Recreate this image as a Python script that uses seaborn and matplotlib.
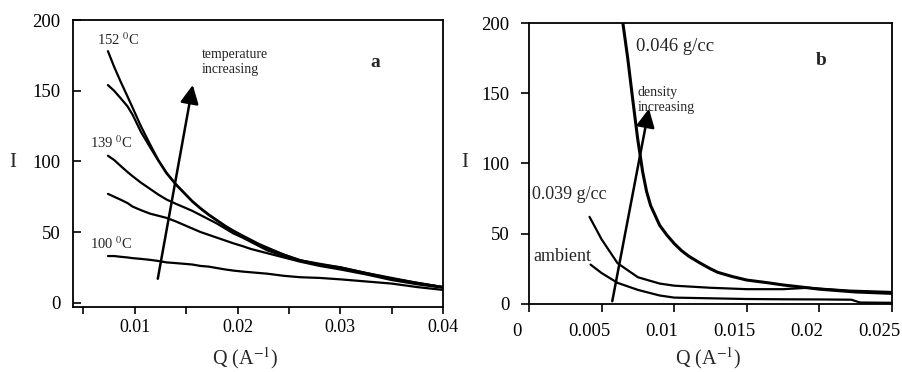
import matplotlib
matplotlib.use('Agg')
import matplotlib.pyplot as plt
from matplotlib.ticker import MultipleLocator
from matplotlib.transforms import ScaledTranslation
import pandas as pd
import seaborn as sns

# panel a: scattering intensity vs Q at several temperatures
q_a = [0.0074, 0.008, 0.0086, 0.0093, 0.0098, 0.0106, 0.0115, 0.0123, 0.0131, 0.014,
       0.0148, 0.0156, 0.0164, 0.0172, 0.018, 0.0188, 0.0196, 0.0205, 0.0213, 0.0221,
       0.0229, 0.0245, 0.0261, 0.028, 0.030, 0.0325, 0.035, 0.0375, 0.040]
I_152 = [178, 167, 157, 146, 138, 125, 112, 101, 92, 84, 78, 72, 67, 62.5, 58.5, 54.5,
         51, 47.5, 44.5, 41.5, 39, 34, 30, 27, 25, 21, 17, 14, 11]
I_2nd = [154, 150, 145, 139, 133, 121, 110, 100.5, 91.5, 83.5, 77.5, 71.5, 66.5, 62, 58,
         54, 50.5, 47, 44, 41, 38.5, 34, 30, 27.5, 25, 21, 17.5, 14, 11]
I_139 = [104, 101, 97, 92.5, 89.5, 85, 80.5, 76.5, 73, 70, 67.5, 65, 62, 59, 56, 52.5,
         49, 46, 43, 40, 37, 33, 29.5, 26.5, 24, 20.5, 16.5, 13.5, 11]
I_3rd = [77, 75, 73, 70.5, 68, 65.5, 63, 61.5, 60, 57.5, 55, 52.5, 50, 48, 46, 44, 42,
         40, 38, 36.5, 35, 32, 29, 26, 23.5, 20, 16, 13, 10.5]
I_100 = [33, 33, 32.5, 32, 31.5, 31, 30.3, 29.5, 28.5, 28, 27.5, 27, 26, 25.5, 24.5,
         23.5, 22.7, 22, 21.5, 21, 20.5, 19, 18, 17.5, 16.5, 15, 13.5, 11, 9]
series_a = {'152': I_152, 'x2': I_2nd, '139': I_139, 'x3': I_3rd, '100': I_100}

# panel b: intensity vs Q at several densities
q_046 = [0.0064, 0.0068, 0.00714, 0.00748, 0.00783, 0.0081, 0.00838, 0.009, 0.0095, 0.01,
         0.0105, 0.011, 0.0118, 0.0125, 0.013, 0.014, 0.015, 0.0165, 0.0175, 0.0192,
         0.02, 0.0225, 0.025]
I_046 = [205, 175, 146, 118, 94, 80, 70, 56, 49, 43, 38, 34, 29, 25, 22.5, 19.5, 17, 15,
         13.5, 11.5, 10.5, 8.5, 7.5]
q_039 = [0.00417, 0.005, 0.0061, 0.0075, 0.009, 0.01, 0.0125, 0.015, 0.0175, 0.0192, 0.022, 0.025]
I_039 = [62, 46, 29, 19, 14.5, 13, 11.5, 10.5, 10.5, 11.5, 9.5, 8.5]
q_amb = [0.00424, 0.005, 0.0061, 0.0075, 0.009, 0.01, 0.0125, 0.015, 0.0175, 0.02, 0.0222, 0.0228, 0.025]
I_amb = [28, 22, 15, 10, 6, 4.5, 4, 3.5, 3.3, 3.2, 3.0, 1.0, 0.8]

sns.set_style("ticks")
plt.rcParams['font.family'] = ['Liberation Serif', 'DejaVu Serif']
plt.rcParams['mathtext.fontset'] = 'stix'

fig = plt.figure(figsize=(9.03, 3.72), dpi=100)
ax1 = fig.add_axes([0.0808, 0.175, 0.41, 0.771])
ax2 = fig.add_axes([0.5858, 0.183, 0.402, 0.755])

dfA = pd.DataFrame({'Q': q_a * len(series_a),
                    'I': sum(series_a.values(), []),
                    'T': sum([[k] * len(q_a) for k in series_a], [])})
for key in series_a:
    sns.lineplot(data=dfA[dfA['T'] == key], x='Q', y='I', ax=ax1, color='black', lw=1.6)

sns.lineplot(x=q_046, y=I_046, ax=ax2, color='black', lw=2.2)
sns.lineplot(x=q_039, y=I_039, ax=ax2, color='black', lw=1.6)
sns.lineplot(x=q_amb, y=I_amb, ax=ax2, color='black', lw=1.6)

for ax in (ax1, ax2):
    for s in ax.spines.values():
        s.set_visible(True)
        s.set_linewidth(1.3)
        s.set_color('black')
    ax.set_yticks([0, 50, 100, 150, 200])
    ax.tick_params(axis='both', which='both', width=1.2, colors='black')
    ax.tick_params(axis='y', labelsize=13.5)
    ax.set_xlabel("Q (A$^{-1}$)", fontsize=14.5, va='center')
    ax.set_ylabel("I", fontsize=15, rotation=0, va='center', ha='center')

# panel a ticks: y inward, x outward
ax1.tick_params(axis='y', direction='in', length=6, pad=9)
ax1.tick_params(axis='x', which='both', direction='out', length=5, pad=3.5, labelsize=13)
ax2.tick_params(axis='y', direction='out', length=6, pad=8)
ax2.tick_params(axis='x', which='both', direction='out', length=6, pad=7.5, labelsize=13.5)

ax1.set_xlim(0.004, 0.04)
ax1.set_ylim(-3, 200)
ax1.xaxis.set_major_locator(MultipleLocator(0.01))
ax1.xaxis.set_minor_locator(MultipleLocator(0.005))
ax1.xaxis.set_label_coords(0.465, -0.178)
ax1.yaxis.set_label_coords(-0.162, 0.502)

ax2.set_xlim(0, 0.025)
ax2.set_ylim(0, 200)
ax2.set_xticks([0, 0.005, 0.01, 0.015, 0.02, 0.025])
ax2.set_xticklabels(['0', '0.005', '0.01', '0.015', '0.02', '0.025'])
ax2.xaxis.set_label_coords(0.493, -0.192)
ax2.yaxis.set_label_coords(-0.176, 0.502)
shift = ScaledTranslation(-9 / 72, 0, fig.dpi_scale_trans)
for lab in ax2.get_xticklabels():
    lab.set_transform(lab.get_transform() + shift)

# annotations panel a
ax1.text(0.0063, 186, "152 $^{0}$C", fontsize=10.5, ha='left', va='center')
ax1.text(0.0057, 113, "139 $^{0}$C", fontsize=10.5, ha='left', va='center')
ax1.text(0.0057, 42, "100 $^{0}$C", fontsize=10.5, ha='left', va='center')
ax1.text(0.0165, 170, "temperature\nincreasing", fontsize=10, ha='left', va='center',
         linespacing=1.2)
ax1.text(0.0334, 170, "a", fontsize=14, fontweight='bold', ha='center', va='center')
ax1.annotate('', xy=(0.0157, 156), xytext=(0.0122, 15),
             arrowprops=dict(arrowstyle='-|>', mutation_scale=28, lw=1.8, color='black'))

# annotations panel b
ax2.text(0.0074, 183, "0.046 g/cc", fontsize=13.5, ha='left', va='center')
ax2.text(0.0201, 173, "b", fontsize=14, fontweight='bold', ha='center', va='center')
ax2.text(0.0075, 145, "density\nincreasing", fontsize=10, ha='left', va='center',
         linespacing=1.2)
ax2.text(0.0002, 78, "0.039 g/cc", fontsize=13, ha='left', va='center')
ax2.text(0.0003, 34, "ambient", fontsize=13, ha='left', va='center')
ax2.annotate('', xy=(0.0083, 141), xytext=(0.0057, 0),
             arrowprops=dict(arrowstyle='-|>', mutation_scale=28, lw=1.8, color='black'))

fig.savefig('out.png', dpi=100)
